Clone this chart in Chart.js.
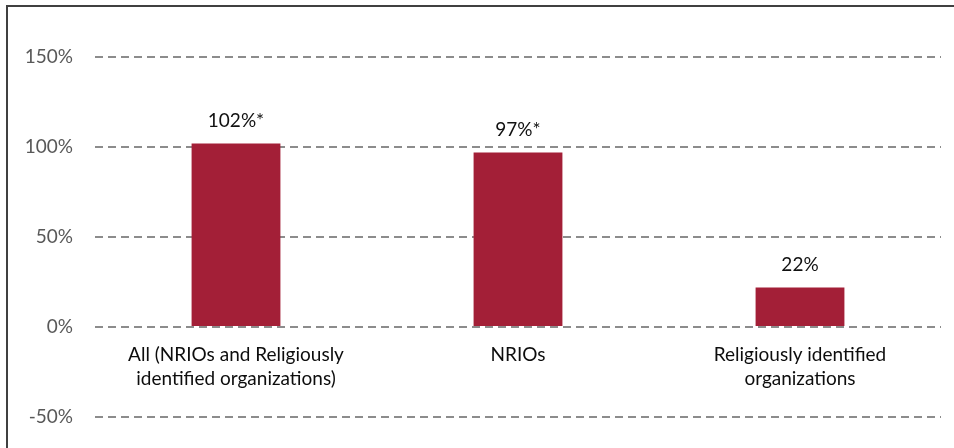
<!DOCTYPE html>
<html>
<head>
<meta charset="utf-8">
<script src="https://cdn.jsdelivr.net/npm/chart.js@4/dist/chart.umd.min.js"></script>
<style>
  html, body { margin: 0; padding: 0; background: #fff; overflow: hidden; }
  #wrap { position: relative; width: 954px; height: 448px; }
  #frame {
    position: absolute; left: 6px; top: 5px; width: 1000px; height: 500px;
    border-left: 2px solid #404040; border-top: 2px solid #404040;
  }
  canvas { position: absolute; left: 0; top: 0; }
</style>
</head>
<body>
<div id="wrap">
  <div id="frame"></div>
  <canvas id="chart" width="954" height="448"></canvas>
</div>
<script>
const categories = [
  ["All (NRIOs and Religiously", "identified organizations)"],
  "NRIOs",
  ["Religiously identified", "organizations"]
];
const values = [102, 97, 22];
const valueLabels = ["102%*", "97%*", "22%"];
const yTicks = [-50, 0, 50, 100, 150];

const barLabels = {
  id: "barLabels",
  afterDatasetsDraw(chart) {
    const ctx = chart.ctx;
    const meta = chart.getDatasetMeta(0);
    ctx.save();
    ctx.font = "19px Lato";
    ctx.fillStyle = "#111";
    ctx.textAlign = "center";
    ctx.textBaseline = "middle";
    meta.data.forEach((bar, i) => {
      ctx.fillText(valueLabels[i], bar.x, bar.y - 23);
    });
    ctx.restore();
  }
};

const ctx = document.getElementById("chart").getContext("2d");

new Chart(ctx, {
  type: "bar",
  data: {
    labels: categories,
    datasets: [
      {
        label: "Data",
        data: values,
        backgroundColor: "#A31F37",
        borderWidth: 0,
        barPercentage: 0.63,
        categoryPercentage: 0.5,
      },
    ],
  },
  options: {
    responsive: false,
    animation: false,
    layout: { padding: { top: 57, bottom: 31, right: 13, left: 0 } },
    plugins: { legend: { display: false }, tooltip: { enabled: false } },
    scales: {
      x: {
        position: { y: 0 },
        grid: { display: false, drawTicks: false },
        border: { display: false },
        ticks: {
          padding: 16,
          color: "#0d0d0d",
          font: { family: "Lato", size: 19, lineHeight: 1.27 },
          maxRotation: 0,
          autoSkip: false,
        },
      },
      y: {
        min: -50,
        max: 150,
        afterFit: (s) => {
          s.width = 95;
          s.paddingTop = 0;
          s.paddingBottom = 0;
        },
        afterBuildTicks: (s) => { s.ticks = yTicks.map((v) => ({ value: v })); },
        grid: {
          color: "#8c8c8c",
          lineWidth: 2,
          drawTicks: false,
        },
        border: { display: false, dash: [8, 5] },
        ticks: {
          padding: 22,
          color: "#595959",
          font: { family: "Lato", size: 19 },
          callback: (v) => v + "%",
        },
      },
    },
  },
  plugins: [barLabels],
});
</script>
</body>
</html>
